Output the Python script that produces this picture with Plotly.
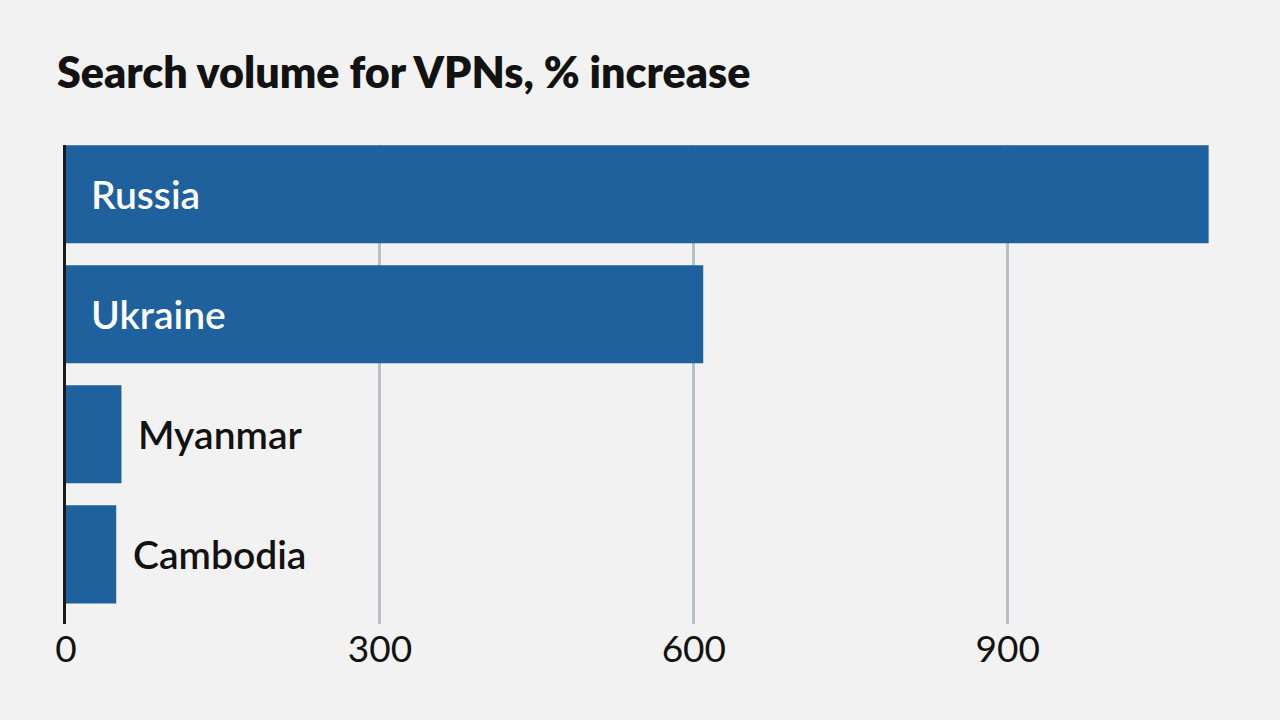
import plotly.graph_objects as go

countries = ["Russia", "Ukraine", "Myanmar", "Cambodia"]
values = [1092, 609, 53, 48]
label_inside = [True, True, False, False]
tick_vals = [0, 300, 600, 900]
tick_text = ["0", "300", "600", "900"]
title_text = "Search volume for VPNs, % increase"

BG = "#f2f2f2"
BAR = "#1f619c"
GRID = "#b7c0c3"

fig = go.Figure()
fig.add_trace(go.Bar(
    y=countries, x=values, orientation="h",
    marker=dict(color=BAR, line=dict(width=0)),
    hoverinfo="skip", showlegend=False,
))

annotations = []
for c, v, inside in zip(countries, values, label_inside):
    if inside:
        annotations.append(dict(x=0, y=c, xref="x", yref="y", text=c, showarrow=False,
                                xanchor="left", yanchor="middle", xshift=23,
                                font=dict(family="Lato", size=39, color="white", weight=600)))
    else:
        annotations.append(dict(x=v, y=c, xref="x", yref="y", text=c, showarrow=False,
                                xanchor="left", yanchor="middle", xshift=15,
                                font=dict(family="Lato", size=39, color="#121212", weight=600)))

fig.update_layout(
    width=1280, height=720,
    paper_bgcolor=BG, plot_bgcolor=BG,
    margin=dict(l=66, r=63, t=145, b=96),
    bargap=0.183,
    annotations=annotations,
    title=dict(text=title_text, x=57/1280, xanchor="left", xref="container",
               y=1 - 73/720, yanchor="middle", yref="container",
               font=dict(family="Lato", size=43, color="#121212", weight=800)),
    xaxis=dict(range=[0, 1100], tickvals=tick_vals, ticktext=tick_text,
               showgrid=True, gridcolor=GRID, gridwidth=3, zeroline=False,
               showline=False, ticks="", ticklabelstandoff=0,
               tickfont=dict(family="Lato", size=37, color="#121212", weight=400)),
    yaxis=dict(range=[3.58, -0.41], showticklabels=False, showgrid=False, zeroline=False,
               showline=True, linecolor="#1a1a1a", linewidth=3, layer="above traces", ticks=""),
)

fig.write_html("out.html", config={"displayModeBar": False},
               post_script="document.body.style.margin='0';document.body.style.overflow='hidden';")
